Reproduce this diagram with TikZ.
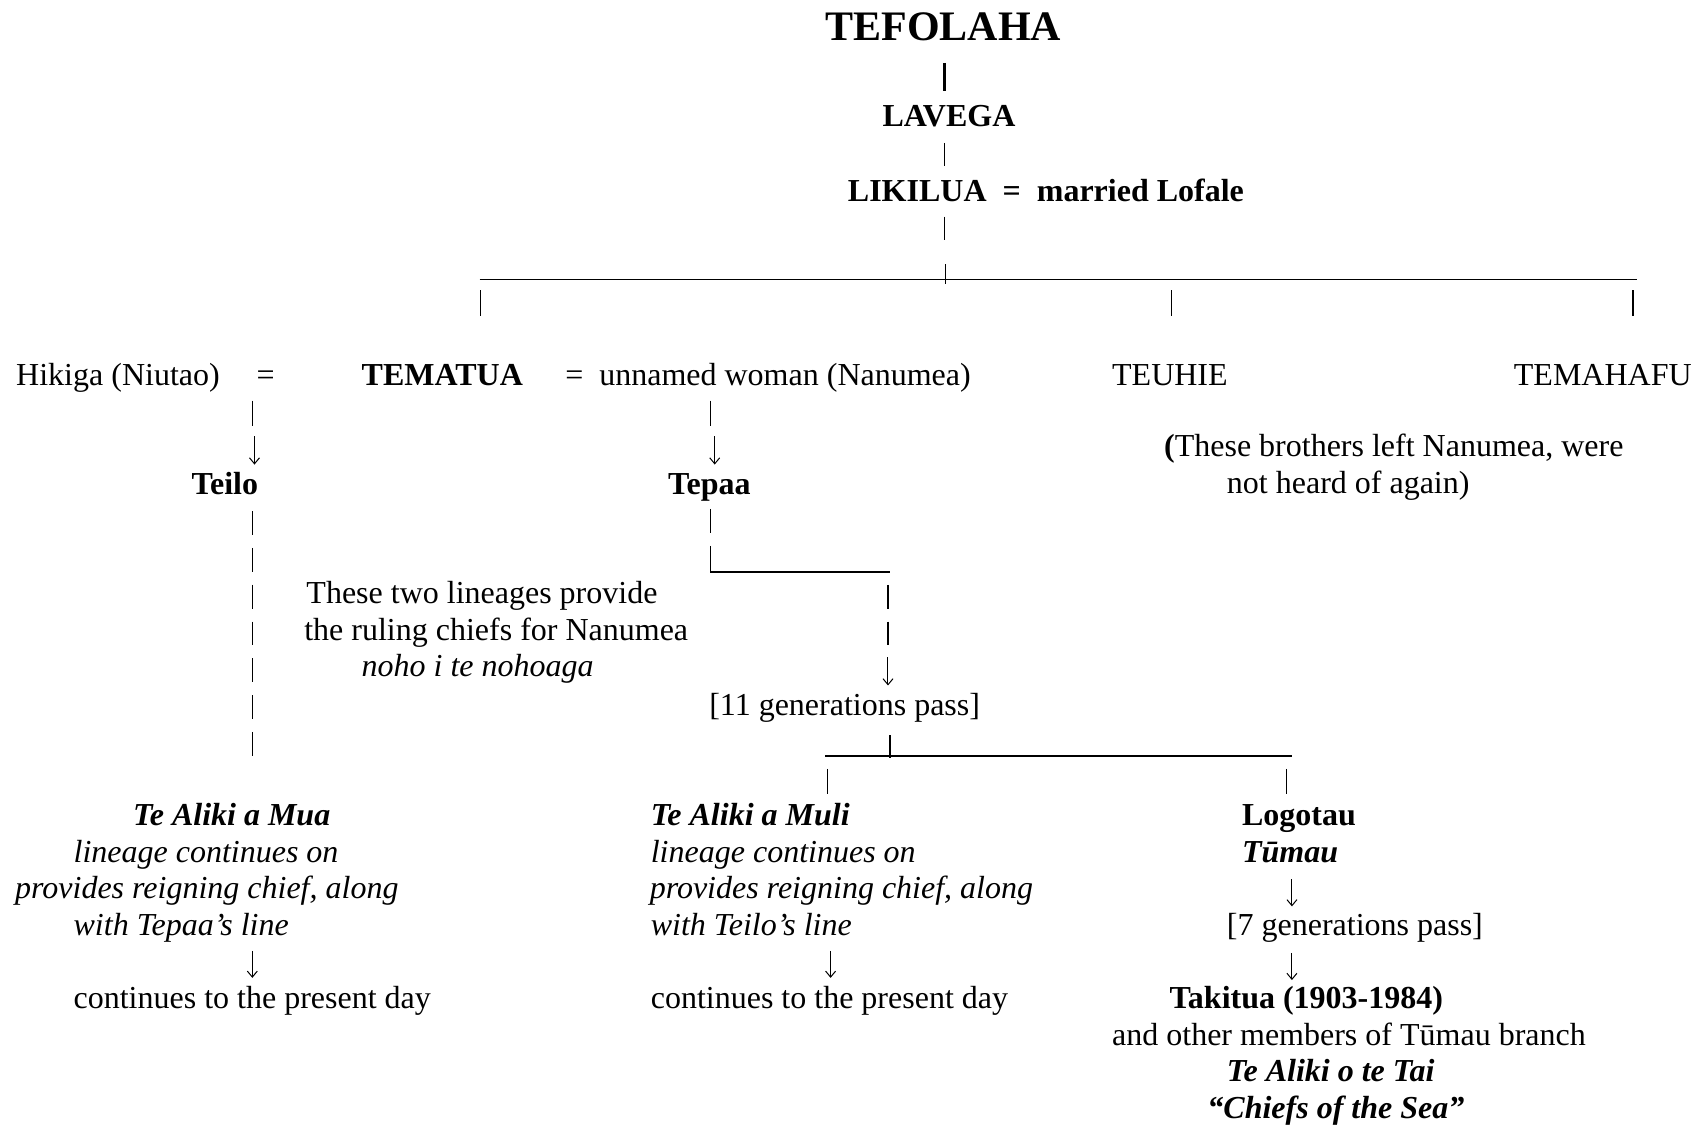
\documentclass[tikz,border=0pt]{standalone}
\usepackage{fontspec}
\setmainfont{Liberation Serif}
\usetikzlibrary{arrows.meta}
\begin{document}
\begin{tikzpicture}[x={(0.8122pt,0)}, y={(0,-0.8122pt)},
  t/.style={anchor=base west, inner sep=0pt, outer sep=0pt, font=\fontsize{24}{28}\selectfont},
  tb/.style={t, font=\fontsize{24}{28}\selectfont\bfseries},
  ti/.style={t, font=\fontsize{24}{28}\selectfont\itshape},
  tbi/.style={t, font=\fontsize{24}{28}\selectfont\bfseries\itshape},
  bar/.style={line width=1pt},
  boldbar/.style={line width=1.8pt},
  rule/.style={line width=1.1pt},
  down/.style={line width=0.75pt, -{Straight Barb[length=4.5pt,width=7.5pt]}},
  barcol/.style={bar, dash pattern=on 17.9pt off 9.7pt}]
\useasboundingbox (0,0) rectangle (1568,1043);
% ---------- texts ----------
\node[anchor=base, inner sep=0pt, font=\fontsize{31.5}{36}\selectfont\bfseries] (tef) at (871,37) {TEFOLAHA};
\node[tb] (lav) at (815,117) {LAVEGA};
\node[tb] (lik) at (783,186) {LIKILUA\ \ =\ \ married Lofale};
\node[t] (hik) at (15,356) {Hikiga (Niutao)};
\node[t] (eq1) at (237,356) {=};
\node[tb] (tem) at (334,356) {TEMATUA};
\node[t] (unw) at (522,356) {=\ \ unnamed woman (Nanumea)};
\node[t] (teu) at (1027,356) {TEUHIE};
\node[t] (tmh) at (1398,356) {TEMAHAFU};
\node[t] (br1) at (1075,422) {{\bfseries (}These brothers left Nanumea, were};
\node[t] (br2) at (1133,456) {not heard of again)};
\node[tb] (teilo) at (177,457) {Teilo};
\node[tb] (tepaa) at (617,457) {Tepaa};
\node[t] (tl1) at (283,557) {These two lineages provide};
\node[t] (tl2) at (281,591) {the ruling chiefs for Nanumea};
\node[ti] (tl3) at (334,625) {noho i te nohoaga};
\node[t] (gen11) at (655,661) {[11 generations pass]};
\node[tbi] (mua) at (123,762) {Te Aliki a Mua};
\node[ti] (l1) at (68,796) {lineage continues on};
\node[ti] (l2) at (14,830) {provides reigning chief, along};
\node[ti] (l3) at (68,864) {with Tepaa’s line};
\node[t] (cont1) at (68,931) {continues to the present day};
\node[tbi] (muli) at (601,762) {Te Aliki a Muli};
\node[ti] (m1) at (601,796) {lineage continues on};
\node[ti] (m2) at (600,830) {provides reigning chief, along};
\node[ti] (m3) at (601,864) {with Teilo’s line};
\node[t] (cont2) at (601,931) {continues to the present day};
\node[tb] (logo) at (1147,762) {Logotau};
\node[tbi] (tumau) at (1147,796) {Tūmau};
\node[t] (gen7) at (1133,864) {[7 generations pass]};
\node[tb] (taki) at (1080,931) {Takitua (1903-1984)};
\node[t] (oth) at (1027,965) {and other members of Tūmau branch};
\node[tbi] (tai) at (1133,999) {Te Aliki o te Tai};
\node[tbi] (sea) at (1115,1033) {“Chiefs of the Sea”};
% ---------- connector points ----------
\coordinate (a1) at (872,58);  \coordinate (a2) at (872,84);
\coordinate (b1) at (872,132); \coordinate (b2) at (872,153);
\coordinate (c1) at (872,200); \coordinate (c2) at (872,222);
\coordinate (hL) at (443,258); \coordinate (hR) at (1512,258);
\coordinate (j1) at (873,244); \coordinate (j2) at (873,262);
\coordinate (d1) at (444,268); \coordinate (d2) at (444,292);
\coordinate (e1) at (1082,268); \coordinate (e2) at (1082,292);
\coordinate (f1) at (1508,268); \coordinate (f2) at (1508,292);
\coordinate (g1) at (233,370); \coordinate (g2) at (233,393);
\coordinate (g3) at (235,403); \coordinate (g4) at (235,429);
\coordinate (k1) at (656,370); \coordinate (k2) at (656,393);
\coordinate (k3) at (660,403); \coordinate (k4) at (660,429);
\coordinate (col1) at (233,472); \coordinate (col2) at (233,698);
\coordinate (p1) at (656,470); \coordinate (p2) at (656,492);
\coordinate (p3) at (656,504); \coordinate (p4) at (656,528);
\coordinate (p5) at (822,528);
\coordinate (q1) at (820,540); \coordinate (q2) at (820,562);
\coordinate (q3) at (820,574); \coordinate (q4) at (820,596);
\coordinate (q5) at (820,607); \coordinate (q6) at (820,633);
\coordinate (sL) at (762,698); \coordinate (sR) at (1193,698);
\coordinate (s1) at (822,679); \coordinate (s2) at (822,700);
\coordinate (u1) at (764,710); \coordinate (u2) at (764,733);
\coordinate (v1) at (1188,710); \coordinate (v2) at (1188,733);
\coordinate (w1) at (233,878); \coordinate (w2) at (233,903);
\coordinate (x1) at (767,878); \coordinate (x2) at (767,903);
\coordinate (y1) at (1193,812); \coordinate (y2) at (1193,837);
\coordinate (z1) at (1193,880); \coordinate (z2) at (1193,905);
% ---------- connectors ----------
\draw[boldbar] (a1) -- (a2);
\draw[bar] (b1) -- (b2);
\draw[bar] (c1) -- (c2);
\draw[rule] (hL) -- (hR);
\draw[bar] (j1) -- (j2);
\draw[bar] (d1) -- (d2);
\draw[bar] (e1) -- (e2);
\draw[bar] (f1) -- (f2);
\draw[bar] (g1) -- (g2);
\draw[down] (g3) -- (g4);
\draw[bar] (k1) -- (k2);
\draw[down] (k3) -- (k4);
\draw[barcol] (col1) -- (col2);
\draw[bar] (p1) -- (p2);
\draw[bar] (p3) -- (p4);
\draw[rule] (p4) -- (p5);
\draw[bar] (q1) -- (q2);
\draw[bar] (q3) -- (q4);
\draw[down] (q5) -- (q6);
\draw[rule] (sL) -- (sR);
\draw[bar] (s1) -- (s2);
\draw[bar] (u1) -- (u2);
\draw[bar] (v1) -- (v2);
\draw[down] (w1) -- (w2);
\draw[down] (x1) -- (x2);
\draw[down] (y1) -- (y2);
\draw[down] (z1) -- (z2);
\end{tikzpicture}
\end{document}
